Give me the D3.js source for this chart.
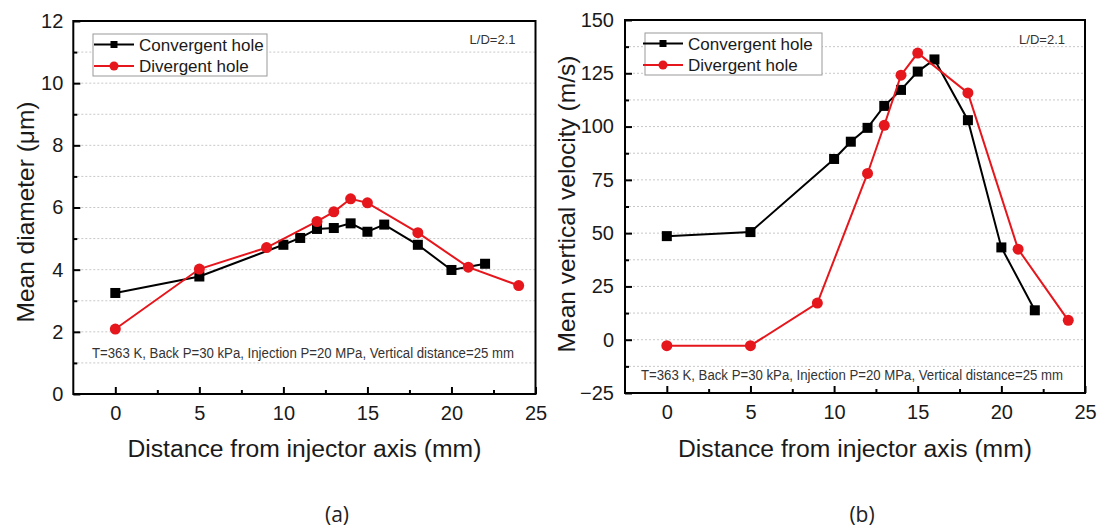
<!DOCTYPE html>
<html>
<head>
<meta charset="utf-8">
<script src="https://cdn.jsdelivr.net/npm/d3@7"></script>
<style>
body { margin: 0; background: #fff; }
svg { display: block; font-family: "Liberation Sans", Arial, sans-serif; }
</style>
</head>
<body>
<svg width="1099" height="531"></svg>
<script>
// data
var convX = [0, 5, 10, 11, 12, 13, 14, 15, 16, 18, 20, 22];
var divX = [0, 5, 9, 12, 13, 14, 15, 18, 21, 24];
var convDiameter = [3.25, 3.78, 4.80, 5.02, 5.31, 5.34, 5.49, 5.22, 5.45, 4.80, 3.99, 4.19];
var divDiameter = [2.09, 4.02, 4.71, 5.55, 5.86, 6.28, 6.15, 5.19, 4.08, 3.49];
var convVelocity = [48.6, 50.5, 84.8, 92.9, 99.4, 109.7, 117.2, 125.8, 131.5, 103.0, 43.3, 13.8];
var divVelocity = [-2.8, -2.8, 17.2, 78.0, 100.6, 124.1, 134.5, 115.8, 42.5, 9.1];
var xTicks = [0, 5, 10, 15, 20, 25];
var diameterTicks = [0, 2, 4, 6, 8, 10, 12];
var velocityTicks = [-25, 0, 25, 50, 75, 100, 125, 150];
var seriesNames = ["Convergent hole", "Divergent hole"];
var note = "T=363 K, Back P=30 kPa, Injection P=20 MPa, Vertical distance=25 mm";

var RED = "#e5161c";
var svg = d3.select("svg");

function zip(xs, ys) { return xs.map(function(x, i) { return [x, ys[i]]; }); }

function panel(opt) {
  var x = d3.scaleLinear().domain([-2.5, 25]).range(opt.xr);
  var y = d3.scaleLinear().domain(opt.yd).range(opt.yr);
  var g = svg.append("g");
  var step = opt.yTicks[1] - opt.yTicks[0];

  // dotted grid at major and minor y positions
  var grid = d3.range(opt.yd[0] + step / 2, opt.yd[1], step / 2);
  g.selectAll(".grid").data(grid).enter().append("line")
    .attr("x1", opt.xr[0]).attr("x2", opt.xr[1])
    .attr("y1", function(d) { return y(d); }).attr("y2", function(d) { return y(d); })
    .attr("stroke", "#c8c8c8").attr("stroke-width", 1).attr("stroke-dasharray", "2,2");

  // bottom axis, ticks inward
  var xAxis = d3.axisBottom(x).tickValues(xTicks).tickSize(-7).tickPadding(12);
  var xa = g.append("g").attr("transform", "translate(0," + opt.yr[0] + ")").call(xAxis);
  var xMinor = d3.axisBottom(x).tickValues(d3.range(2.5, 25, 5)).tickSize(-4).tickFormat("");
  var xm = g.append("g").attr("transform", "translate(0," + opt.yr[0] + ")").call(xMinor);
  var yAxis = d3.axisLeft(y).tickValues(opt.yTicks).tickSize(-7).tickPadding(opt.yPad);
  var ya = g.append("g").attr("transform", "translate(" + opt.xr[0] + ",0)").call(yAxis);
  var yMinor = d3.axisLeft(y).tickValues(d3.range(opt.yd[0] + step / 2, opt.yd[1], step)).tickSize(-4).tickFormat("");
  var ym = g.append("g").attr("transform", "translate(" + opt.xr[0] + ",0)").call(yMinor);
  [xa, xm, ya, ym].forEach(function(a) {
    a.select(".domain").remove();
    a.selectAll("line").attr("stroke", "#000").attr("stroke-width", 2);
    a.selectAll("text").attr("font-size", 20).attr("fill", "#1a1a1a").attr("font-family", "Liberation Sans, Arial, sans-serif");
  });

  // frame
  g.append("rect").attr("x", opt.xr[0]).attr("y", opt.yr[1])
    .attr("width", opt.xr[1] - opt.xr[0]).attr("height", opt.yr[0] - opt.yr[1])
    .attr("fill", "none").attr("stroke", "#000").attr("stroke-width", 2);

  var line = d3.line().x(function(d) { return x(d[0]); }).y(function(d) { return y(d[1]); });
  var conv = zip(convX, opt.conv), div = zip(divX, opt.div);

  g.append("path").datum(conv).attr("d", line).attr("fill", "none").attr("stroke", "#000").attr("stroke-width", 2);
  g.selectAll(".sq").data(conv).enter().append("rect")
    .attr("x", function(d) { return x(d[0]) - 5; }).attr("y", function(d) { return y(d[1]) - 5; })
    .attr("width", 10).attr("height", 10).attr("fill", "#000");
  g.append("path").datum(div).attr("d", line).attr("fill", "none").attr("stroke", RED).attr("stroke-width", 2);
  g.selectAll(".dot").data(div).enter().append("circle")
    .attr("cx", function(d) { return x(d[0]); }).attr("cy", function(d) { return y(d[1]); })
    .attr("r", 5.5).attr("fill", RED);

  // legend
  var L = opt.legend;
  g.append("rect").attr("x", L.x).attr("y", L.y).attr("width", L.w).attr("height", 42)
    .attr("fill", "#fff").attr("stroke", "#999").attr("stroke-width", 1);
  seriesNames.forEach(function(name, i) {
    var cy = L.y + 10.5 + i * 21.5;
    var col = i == 0 ? "#000" : RED;
    g.append("line").attr("x1", L.x + L.off).attr("x2", L.x + L.off + 40).attr("y1", cy).attr("y2", cy)
      .attr("stroke", col).attr("stroke-width", 2);
    if (i == 0) {
      g.append("rect").attr("x", L.x + L.off + 20 - 3.5).attr("y", cy - 3.5).attr("width", 7).attr("height", 7).attr("fill", col);
    } else {
      g.append("circle").attr("cx", L.x + L.off + 20).attr("cy", cy).attr("r", 4.5).attr("fill", col);
    }
    g.append("text").attr("x", L.x + L.off + 45).attr("y", cy + 6).attr("font-size", 17).attr("fill", "#1a1a1a").text(name);
  });

  g.append("text").attr("x", opt.xr[1] - 20).attr("y", 44).attr("text-anchor", "end")
    .attr("font-size", 13).attr("fill", "#333").text("L/D=2.1");
  g.append("text").attr("x", opt.noteX).attr("y", opt.noteY).attr("font-size", 14)
    .attr("textLength", 422).attr("lengthAdjust", "spacingAndGlyphs")
    .attr("fill", "#333").text(note);

  // axis titles
  g.append("text").attr("x", (opt.xr[0] + opt.xr[1]) / 2).attr("y", 457).attr("text-anchor", "middle")
    .attr("font-size", 24.7).attr("fill", "#1a1a1a").text("Distance from injector axis (mm)");
  g.append("text").attr("transform", "translate(" + opt.titleX + "," + opt.titleY + ") rotate(-90)")
    .attr("text-anchor", "middle").attr("font-size", 24.5).attr("fill", "#1a1a1a").text(opt.yTitle);
  g.append("text").attr("x", opt.capX).attr("y", 522).attr("text-anchor", "middle")
    .attr("font-size", 21).attr("font-family", "Open Sans, sans-serif").attr("fill", "#222").text(opt.cap);
}

panel({
  xr: [73.3, 535.5], yd: [0, 12], yr: [394, 21], yTicks: diameterTicks, yPad: 10,
  conv: convDiameter, div: divDiameter,
  legend: { x: 93, y: 34, w: 174, off: 1 },
  noteX: 92, noteY: 358, titleX: 34, titleY: 212, yTitle: "Mean diameter (\u03bcm)",
  capX: 337, cap: "(a)"
});
panel({
  xr: [625, 1085], yd: [-25, 150], yr: [393, 20], yTicks: velocityTicks, yPad: 11,
  conv: convVelocity, div: divVelocity,
  legend: { x: 645, y: 33, w: 177, off: -2 },
  noteX: 641, noteY: 380, titleX: 575, titleY: 204, yTitle: "Mean vertical velocity (m/s)",
  capX: 862, cap: "(b)"
});
</script>
</body>
</html>
